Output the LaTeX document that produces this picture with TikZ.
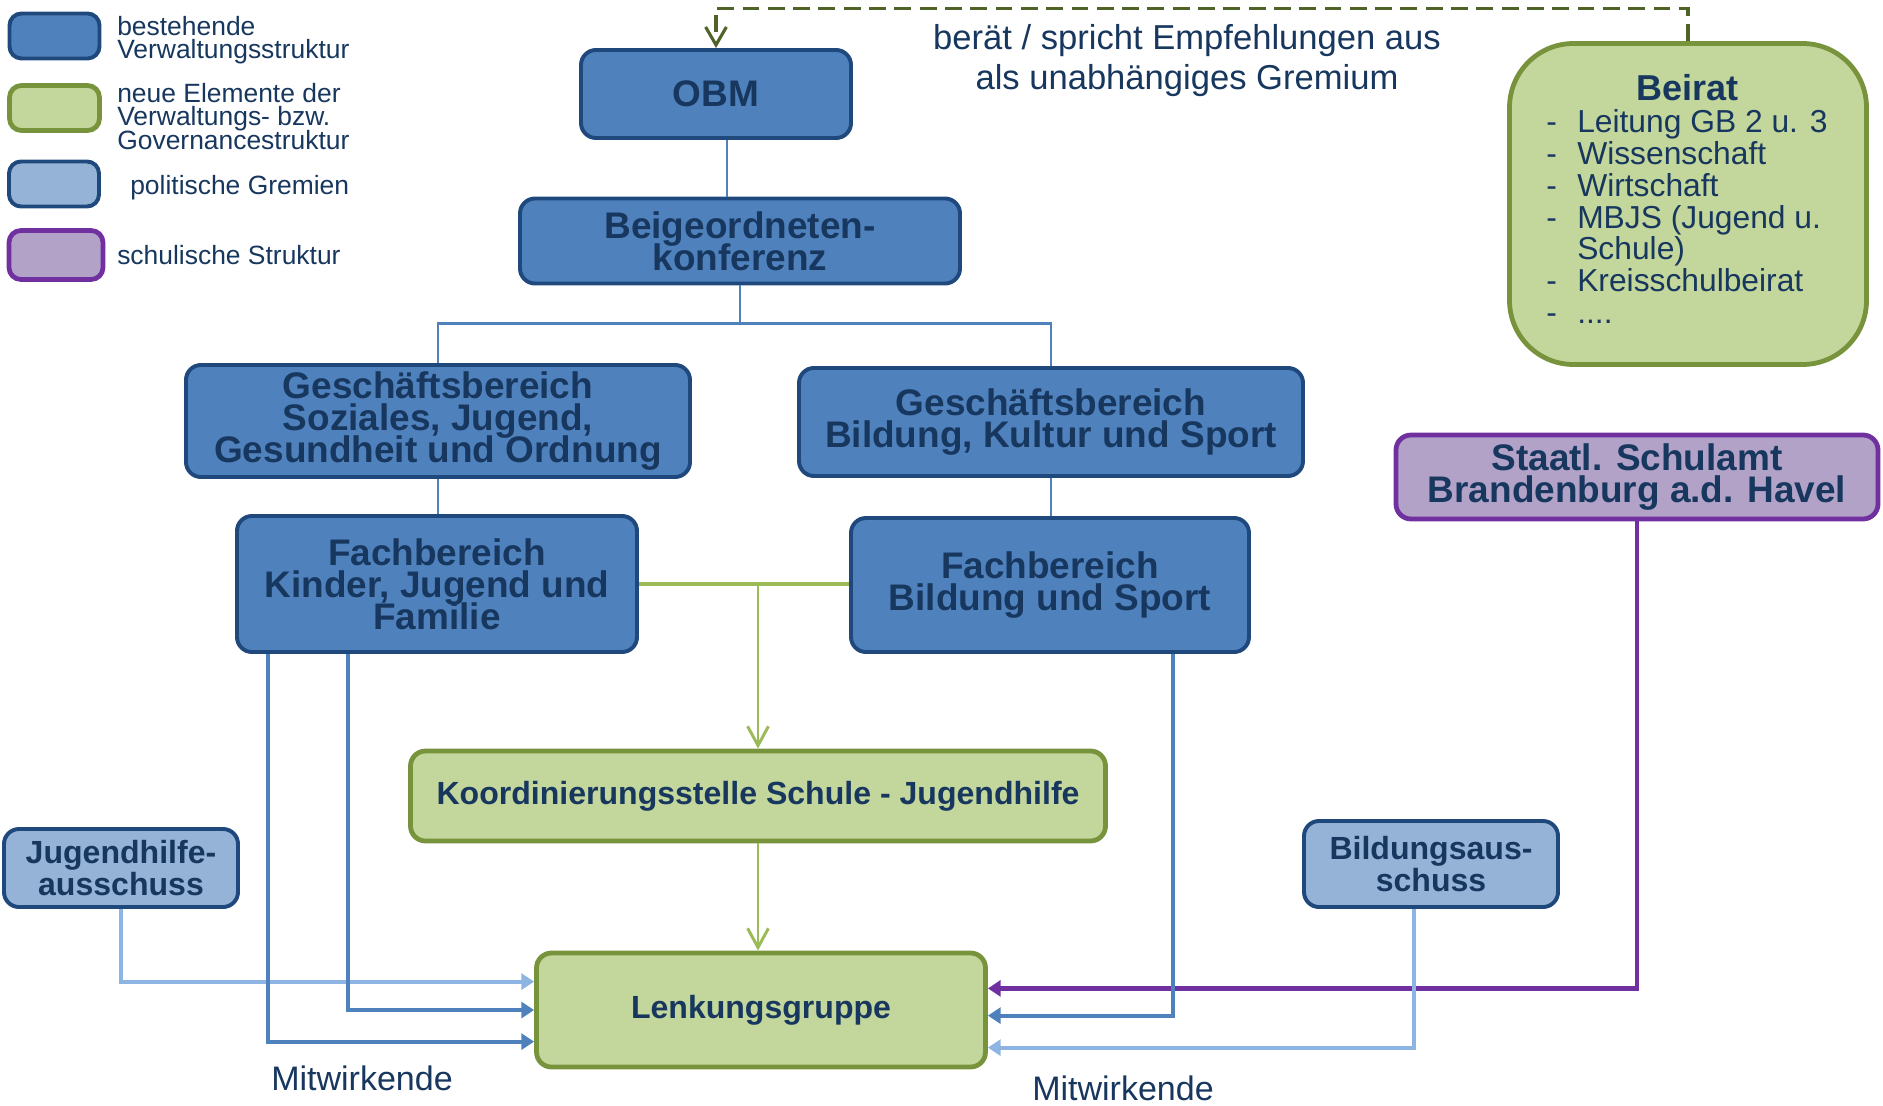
\documentclass[tikz,border=0pt]{standalone}
\usepackage{fontspec}
\setmainfont{Liberation Sans}
\usetikzlibrary{arrows.meta}

\definecolor{adminfill}{HTML}{4F81BD}
\definecolor{admindraw}{HTML}{1F497D}
\definecolor{newfill}{HTML}{C3D69B}
\definecolor{newdraw}{HTML}{77933C}
\definecolor{politfill}{HTML}{95B3D7}
\definecolor{schoolfill}{HTML}{B2A2C7}
\definecolor{schooldraw}{HTML}{7030A0}
\definecolor{textnavy}{HTML}{17375E}
\definecolor{politline}{HTML}{8DB4E2}
\definecolor{greenline}{HTML}{9BBB59}
\definecolor{adviseline}{HTML}{4F6228}

% tight line spacing as in the original chart
\newcommand\tightlines{\lineskiplimit=-40pt\lineskip=0pt\relax}
\newcommand\bigboxfont{\fontsize{26.3}{22.8}\selectfont\bfseries\tightlines}
\newcommand\smallboxfont{\fontsize{22.8}{23}\selectfont\bfseries\tightlines}
\newcommand\legendtext{\fontsize{18.8}{16.7}\selectfont\tightlines}
\newcommand\remarkfont{\fontsize{24.6}{28.5}\selectfont\tightlines}
\newcommand\beiratfont{\fontsize{22.6}{22.7}\selectfont\tightlines}

\tikzset {
  box/.style = {
    draw,
    rounded corners = 3.75mm,
    inner sep = 0,
    align = center,
    text = textnavy
  },
  % existing administration
  admin/.style = {
    box,
    fill = adminfill,
    draw = admindraw,
    line width = 2.8pt,
    font = \bigboxfont
  },
  % new elements
  newel/.style = {
    box,
    fill = newfill,
    draw = newdraw,
    line width = 3.4pt,
    font = \smallboxfont
  },
  % political committees
  polit/.style = {
    box,
    fill = politfill,
    draw = admindraw,
    line width = 2.8pt,
    font = \smallboxfont
  },
  % school structure
  school/.style = {
    box,
    fill = schoolfill,
    draw = schooldraw,
    line width = 3.4pt,
    font = \bigboxfont
  },
  legend box/.style = {
    minimum width = 22.5mm,
    minimum height = 11.25mm,
    rounded corners = 3mm
  },
  legend label/.style = {
    anchor = north west,
    align = left,
    inner sep = 0,
    text = textnavy,
    font = \legendtext
  }
}
\tikzset {
  treeline/.style = {
    draw = adminfill,
    line width = 2.1pt
  },
  % arrows into the Lenkungsgruppe
  adminarrow/.style = {
    draw = adminfill,
    line width = 2.8pt,
    -{Triangle[length=3.2mm, width=4mm]}
  },
  politarrow/.style = {
    adminarrow,
    draw = politline
  },
  schoolarrow/.style = {
    adminarrow,
    draw = schooldraw,
    line width = 3.5pt
  },
  greenarrow/.style = {
    draw = greenline,
    line width = 2.1pt,
    -{Straight Barb[length=4.8mm, width=5.2mm]}
  },
  advise/.style = {
    draw = adviseline,
    line width = 2.2pt,
    dash pattern = on 12pt off 6pt,
    -{Straight Barb[length=4.5mm, width=5.2mm]}
  }
}

\begin{document}
\begin{tikzpicture}[x=0.25mm, y=-0.25mm]
  \useasboundingbox (0,0) rectangle (1883,1106);

  % legend
  \node[admin, legend box] (legadmin) at (54.5,36) {};
  \node[newel, legend box] (legnew) at (54.5,108) {};
  \node[polit, legend box] (legpolit) at (54,184) {};
  \node[school, legend box, minimum width=23.5mm, minimum height=12.25mm] (legschool) at (56,255) {};
  \node[legend label] (legadmintext) at (117,16) {bestehende\\Verwaltungsstruktur};
  \node[legend label] (legnewtext) at (117,83) {neue Elemente der\\Verwaltungs- bzw.\\Governancestruktur};
  \node[legend label] (legpolittext) at (130,175) {politische Gremien};
  \node[legend label] (legschooltext) at (117,245) {schulische Struktur};

  % administration
  \node[admin, minimum width=67.5mm, minimum height=22mm] (obm) at (716,94) {OBM};
  \node[admin, minimum width=110mm, minimum height=21.25mm] (beig) at (740,241) {Beigeordneten-\\konferenz};
  \node[admin, minimum width=126mm, minimum height=28mm] (gbsjgo) at (438,421) {Geschäftsbereich\\Soziales, Jugend,\\Gesundheit und Ordnung};
  \node[admin, minimum width=126mm, minimum height=27mm] (gbbks) at (1051,422) {Geschäftsbereich\\Bildung, Kultur und Sport};
  \node[admin, minimum width=100mm, minimum height=34mm] (fbkjf) at (437,584) {Fachbereich\\Kinder, Jugend und\\Familie};
  \node[admin, minimum width=99.5mm, minimum height=33.5mm] (fbbs) at (1050,585) {Fachbereich\\Bildung und Sport};

  % new elements
  \node[newel, minimum width=173.75mm, minimum height=22.5mm] (koord) at (758,796) {Koordinierungsstelle Schule - Jugendhilfe};
  \node[newel, minimum width=112.25mm, minimum height=28.5mm] (lenk) at (761,1010) {Lenkungsgruppe};
  \node[newel, rounded corners=16mm, minimum width=89.25mm, minimum height=80.25mm] (beirat) at (1688,204) {};
  \node[text=textnavy, inner sep=0, font=\fontsize{25.6}{26}\selectfont\bfseries] (beirathead) at (1687,88) {Beirat};
  \node[anchor=north west, align=left, inner sep=0, text=textnavy, font=\beiratfont] (beiratlist) at (1546,109) {%
    \makebox[7.75mm][l]{-}Leitung GB 2 u. 3\\
    \makebox[7.75mm][l]{-}Wissenschaft\\
    \makebox[7.75mm][l]{-}Wirtschaft\\
    \makebox[7.75mm][l]{-}MBJS (Jugend u.\\
    \hspace*{7.75mm}Schule)\\
    \makebox[7.75mm][l]{-}Kreisschulbeirat\\
    \makebox[7.75mm][l]{-}....};

  % committees and school
  \node[polit, minimum width=58.5mm, minimum height=19.5mm] (jha) at (121,868) {Jugendhilfe-\\ausschuss};
  \node[polit, minimum width=63.5mm, minimum height=21.5mm] (ba) at (1431,864) {Bildungsaus-\\schuss};
  \node[school, minimum width=120.5mm, minimum height=21mm] (schulamt) at (1637,477) {Staatl. Schulamt\\Brandenburg a.d. Havel};

  % texts
  \node[align=center, text=textnavy, font=\remarkfont] (remark) at (1187,61) {berät / spricht Empfehlungen aus\\als unabhängiges Gremium};
  \node[text=textnavy, font=\fontsize{24.2}{26}\selectfont] (mitleft) at (362,1078) {Mitwirkende};
  \node[text=textnavy, font=\fontsize{24.2}{26}\selectfont] (mitright) at (1123,1088) {Mitwirkende};

  % hierarchy
  \coordinate (fork) at ([yshift=-9.5mm]beig.south);
  \draw[treeline] ([xshift=2.75mm]obm.south) -- ([xshift=2.75mm]obm.south |- beig.north);
  \draw[treeline] (beig.south) -- (fork);
  \draw[treeline] (gbsjgo.north) |- (fork) -| (gbbks.north);
  \draw[treeline] (gbsjgo.south) -- (gbsjgo.south |- fbkjf.north);
  \draw[treeline] (gbbks.south) -- (gbbks.south |- fbbs.north);

  % coordination
  \draw[draw=greenline, line width=2.5pt] (fbkjf.east) -- (fbkjf.east -| fbbs.west);
  \draw[greenarrow] (koord.north |- fbkjf.east) -- (koord.north);
  \draw[greenarrow] (koord.south) -- (koord.south |- lenk.north);

  % advice
  \draw[advise] (beirat.north) -- ++(0,-33) -| (obm.north);

  % participants
  \draw[politarrow] (jha.south) |- ([yshift=7.1mm]lenk.west);
  \draw[adminarrow] ([xshift=-22.25mm]fbkjf.south) |- (lenk.west);
  \draw[adminarrow] ([xshift=-42.25mm]fbkjf.south) |- ([yshift=-7.9mm]lenk.west);
  \draw[schoolarrow] (schulamt.south) |- ([yshift=5.4mm]lenk.east);
  \draw[adminarrow] ([xshift=30.75mm]fbbs.south) |- ([yshift=-1.4mm]lenk.east);
  \draw[politarrow] ([xshift=-4.25mm]ba.south) |- ([yshift=-9.4mm]lenk.east);
\end{tikzpicture}
\end{document}
